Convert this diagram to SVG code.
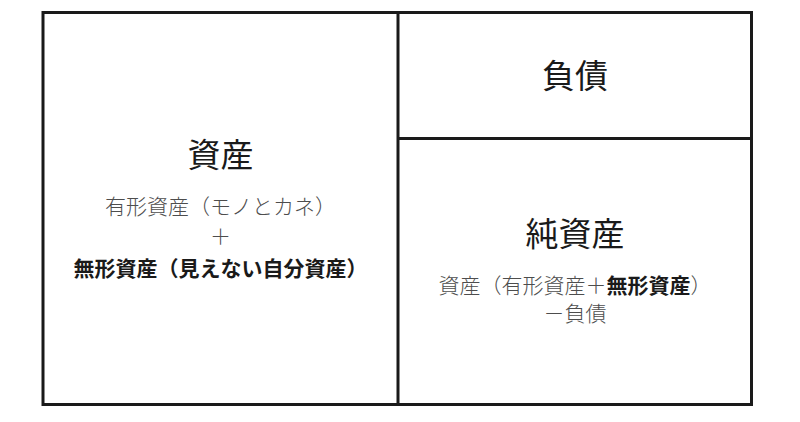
<svg xmlns="http://www.w3.org/2000/svg" width="800" height="422" viewBox="0 0 800 422">
<style>
.t{font-family:"Noto Sans CJK JP","Noto Sans",sans-serif;text-anchor:middle}
.h{font-size:33px;fill:#1a1a1a;font-weight:400}
.s{font-size:21px;fill:#4d4d4d;font-weight:300}
.b{font-size:21px;fill:#1a1a1a;font-weight:700}
.line{stroke:#1a1a1a;stroke-width:3;fill:none}
</style>
<rect width="800" height="422" fill="#fff"/>
<g id="frame">
<rect class="line" x="43" y="12.5" width="708.5" height="392"/>
</g>
<g id="connectors">
<line class="line" x1="398" y1="12.5" x2="398" y2="404.5"/>
<line class="line" x1="398" y1="138.5" x2="751.5" y2="138.5"/>
</g>
<g id="assets">
<text class="t h" x="220.5" y="167">資産</text>
<text class="t s" x="220.5" y="214">有形資産（モノとカネ）</text>
<text class="t s" x="220.5" y="244">＋</text>
<text class="t b" x="220.5" y="276">無形資産（見えない自分資産）</text>
</g>
<g id="liabilities">
<text class="t h" x="575" y="88">負債</text>
</g>
<g id="net-assets">
<text class="t h" x="575" y="246">純資産</text>
<text class="t s" x="575" y="293">資産（有形資産＋<tspan class="b">無形資産</tspan>）</text>
<text class="t s" x="575" y="321">－負債</text>
</g>
</svg>
